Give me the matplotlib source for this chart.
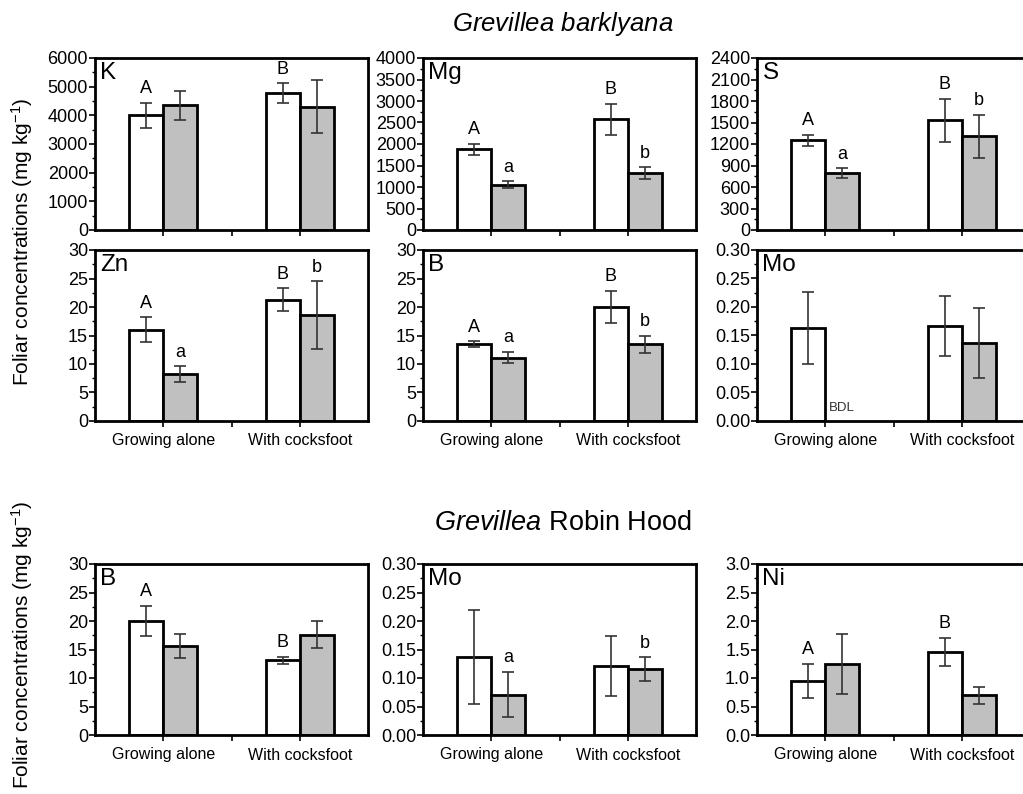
import matplotlib
matplotlib.use("Agg")
import matplotlib.pyplot as plt
import numpy as np
from matplotlib.ticker import MultipleLocator, FormatStrFormatter
from matplotlib import font_manager

# pick a narrow sans face if available
_names = {f.name for f in font_manager.fontManager.ttflist}
NARROW = "Liberation Sans Narrow" if "Liberation Sans Narrow" in _names else "Liberation Sans"
plt.rcParams["font.family"] = [NARROW, "Liberation Sans", "DejaVu Sans"]
plt.rcParams["mathtext.fontset"] = "custom"
plt.rcParams["mathtext.rm"] = "Liberation Sans"
plt.rcParams["mathtext.it"] = "Liberation Sans:italic"

groups = ["Growing alone", "With cocksfoot"]

# Grevillea barklyana  (alone / with cocksfoot ; open bars = first treatment, grey = second)
K_white, K_white_err = [4000, 4770], [430, 350]
K_grey, K_grey_err = [4350, 4300], [500, 930]
Mg_white, Mg_white_err = [1880, 2580], [130, 360]
Mg_grey, Mg_grey_err = [1050, 1320], [80, 140]
S_white, S_white_err = [1250, 1530], [80, 300]
S_grey, S_grey_err = [790, 1310], [70, 300]
Zn_white, Zn_white_err = [16.0, 21.3], [2.2, 2.0]
Zn_grey, Zn_grey_err = [8.2, 18.6], [1.4, 5.9]
B1_white, B1_white_err = [13.5, 20.0], [0.45, 2.8]
B1_grey, B1_grey_err = [11.1, 13.5], [1.0, 1.5]
Mo1_white, Mo1_white_err = [0.163, 0.167], [0.063, 0.053]
Mo1_grey, Mo1_grey_err = [np.nan, 0.137], [np.nan, 0.062]

# Grevillea Robin Hood
B2_white, B2_white_err = [20.0, 13.1], [2.65, 0.6]
B2_grey, B2_grey_err = [15.6, 17.6], [2.05, 2.4]
Mo2_white, Mo2_white_err = [0.137, 0.121], [0.082, 0.052]
Mo2_grey, Mo2_grey_err = [0.071, 0.115], [0.040, 0.021]
Ni_white, Ni_white_err = [0.95, 1.46], [0.30, 0.25]
Ni_grey, Ni_grey_err = [1.25, 0.70], [0.53, 0.15]

W, H = 1023, 794
fig = plt.figure(figsize=(W / 100, H / 100), dpi=100)

col_x = [95, 423, 757]
col_w = 273
rows_y = [(58, 230), (250, 421), (564, 735)]


def make_ax(col, row):
    l = col_x[col]
    t, b = rows_y[row]
    return fig.add_axes([l / W, 1 - b / H, col_w / W, (b - t) / H])


BW = 0.25
x = np.arange(2)


def panel(ax, name, white, werr, grey, gerr, ymax, step, fmt,
          wletters=None, gletters=None, xlabels=True):
    ax.bar(x - BW / 2, white, BW, color="white", edgecolor="black", linewidth=2, zorder=2)
    ax.bar(x + BW / 2, grey, BW, color="#c0c0c0", edgecolor="black", linewidth=2, zorder=2)
    ax.errorbar(x - BW / 2, white, yerr=werr, fmt="none", ecolor="#333333",
                elinewidth=1.2, capsize=4, capthick=1.2, zorder=3)
    ax.errorbar(x + BW / 2, grey, yerr=gerr, fmt="none", ecolor="#333333",
                elinewidth=1.2, capsize=4, capthick=1.2, zorder=3)
    for vals, errs, labs, off in ((white, werr, wletters, -BW / 2), (grey, gerr, gletters, BW / 2)):
        if labs is None:
            continue
        for i, lab in enumerate(labs):
            if lab:
                ax.annotate(lab, (x[i] + off, vals[i] + errs[i]), xytext=(0, 4),
                            textcoords="offset points", ha="center", va="bottom",
                            fontsize=13, family=["Liberation Sans"])
    ax.set_xlim(-0.5, 1.5)
    ax.set_ylim(0, ymax)
    ax.yaxis.set_major_locator(MultipleLocator(step))
    ax.yaxis.set_minor_locator(MultipleLocator(step / 2))
    ax.yaxis.set_major_formatter(FormatStrFormatter(fmt))
    ax.set_xticks(x)
    ax.set_xticks([0.5], minor=True)
    if xlabels:
        ax.set_xticklabels(groups, fontsize=11.5)
    else:
        ax.set_xticklabels([])
    ax.tick_params(axis="y", which="major", direction="out", length=4, width=1.2,
                   labelsize=13, pad=1)
    ax.tick_params(axis="y", which="minor", direction="out", length=2, width=1)
    ax.tick_params(axis="x", which="both", direction="out", length=4, width=1.2, pad=5)
    for s in ax.spines.values():
        s.set_linewidth(2)
    ax.text(0.02, 0.975, name, transform=ax.transAxes, ha="left", va="top",
            fontsize=17.5, family=["Liberation Sans"])


ax = make_ax(0, 0)
panel(ax, "K", K_white, K_white_err, K_grey, K_grey_err, 6000, 1000, "%d",
      wletters=["A", "B"], xlabels=False)
ax = make_ax(1, 0)
panel(ax, "Mg", Mg_white, Mg_white_err, Mg_grey, Mg_grey_err, 4000, 500, "%d",
      wletters=["A", "B"], gletters=["a", "b"], xlabels=False)
ax = make_ax(2, 0)
panel(ax, "S", S_white, S_white_err, S_grey, S_grey_err, 2400, 300, "%d",
      wletters=["A", "B"], gletters=["a", "b"], xlabels=False)

ax = make_ax(0, 1)
panel(ax, "Zn", Zn_white, Zn_white_err, Zn_grey, Zn_grey_err, 30, 5, "%d",
      wletters=["A", "B"], gletters=["a", "b"])
ax = make_ax(1, 1)
panel(ax, "B", B1_white, B1_white_err, B1_grey, B1_grey_err, 30, 5, "%d",
      wletters=["A", "B"], gletters=["a", "b"])
ax = make_ax(2, 1)
panel(ax, "Mo", Mo1_white, Mo1_white_err, Mo1_grey, Mo1_grey_err, 0.30, 0.05, "%.2f")
ax.text(x[0] + BW / 2, 0.012, "BDL", ha="center", va="bottom", fontsize=9.5, color="#333333")

ax = make_ax(0, 2)
panel(ax, "B", B2_white, B2_white_err, B2_grey, B2_grey_err, 30, 5, "%d",
      wletters=["A", "B"])
ax = make_ax(1, 2)
panel(ax, "Mo", Mo2_white, Mo2_white_err, Mo2_grey, Mo2_grey_err, 0.30, 0.05, "%.2f",
      gletters=["a", "b"])
ax = make_ax(2, 2)
panel(ax, "Ni", Ni_white, Ni_white_err, Ni_grey, Ni_grey_err, 3.0, 0.5, "%.1f",
      wletters=["A", "B"])

fig.text(563 / W, 1 - 24 / H, r"$\mathit{Grevillea\ barklyana}$", ha="center", va="center",
         fontsize=18.5)
fig.text(563 / W, 1 - 523 / H, r"$\mathit{Grevillea}$ Robin Hood", ha="center", va="center",
         fontsize=19.5, family=["Liberation Sans"])

ylab = r"Foliar concentrations (mg kg$^{\mathregular{-1}}$)"
fig.text(22 / W, 1 - 242 / H, ylab, rotation=90, ha="center", va="center", fontsize=15,
         family=["Liberation Sans"])
fig.text(22 / W, 1 - 645 / H, ylab, rotation=90, ha="center", va="center", fontsize=15,
         family=["Liberation Sans"])

fig.savefig("out.png", dpi=100)
